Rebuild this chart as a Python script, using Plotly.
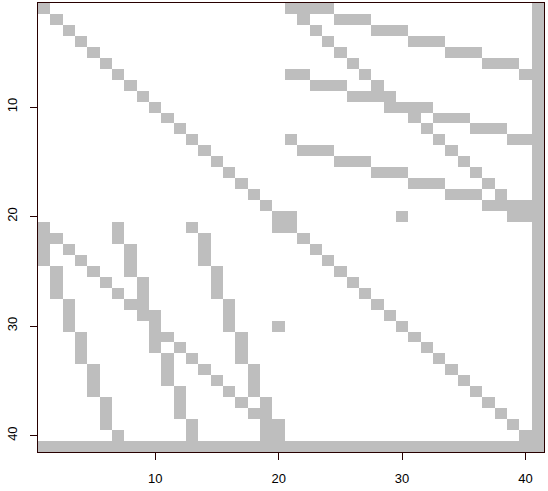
import numpy as np
import plotly.graph_objects as go

n = 41
# off-diagonal nonzeros in the upper triangle (row < col); the matrix is symmetric
pair_row = [1, 1, 1, 1, 2, 2, 2, 2, 3, 3, 3, 3, 4, 4, 4, 4, 5, 5, 5, 5,
            6, 6, 6, 6, 7, 7, 7, 7, 8, 8, 8, 8, 9, 9, 9, 9, 10, 10, 10, 10,
            11, 11, 11, 11, 12, 12, 12, 12, 13, 13, 13, 13, 14, 14, 14, 14,
            15, 15, 15, 15, 16, 16, 16, 16, 17, 17, 17, 17, 18, 18, 18, 18,
            19, 19, 19, 19, 20, 20, 20, 20]
pair_col = [21, 22, 23, 24, 22, 25, 26, 27, 23, 28, 29, 30, 24, 31, 32, 33,
            25, 34, 35, 36, 26, 37, 38, 39, 21, 22, 27, 40, 23, 24, 25, 28,
            26, 27, 28, 29, 29, 30, 31, 32, 31, 33, 34, 35, 32, 36, 37, 38,
            21, 33, 39, 40, 22, 23, 24, 34, 25, 26, 27, 35, 28, 29, 30, 36,
            31, 32, 33, 37, 34, 35, 36, 38, 37, 38, 39, 40, 21, 30, 39, 40]
full_index = [41]  # last row and column are dense
tick_vals = [10, 20, 30, 40]

z = np.zeros((n, n))
np.fill_diagonal(z, 1)
for r, c in zip(pair_row, pair_col):
    z[r - 1, c - 1] = 1
    z[c - 1, r - 1] = 1
for k in full_index:
    z[k - 1, :] = 1
    z[:, k - 1] = 1

idx = list(range(1, n + 1))

fig = go.Figure(
    go.Heatmap(
        x=idx, y=idx, z=z, zmin=0, zmax=1,
        colorscale=[[0, "#FFFFFF"], [1, "#BEBEBE"]],
        showscale=False, hoverinfo="skip",
    )
)

axis_style = dict(
    tickvals=tick_vals,
    ticks="outside",
    ticklen=7,
    tickwidth=1,
    tickcolor="rgb(40,0,0)",
    showline=True,
    linecolor="rgb(40,0,0)",
    linewidth=1,
    mirror=True,
    showgrid=False,
    zeroline=False,
    automargin=False,
)

fig.update_xaxes(range=[0.5, n + 0.5], ticklabelstandoff=7, **axis_style)
fig.update_yaxes(range=[n + 0.5, 0.5], tickangle=-90, ticklabelstandoff=8, **axis_style)

fig.update_layout(
    width=548, height=491,
    margin=dict(l=38, r=4, t=3, b=39),
    paper_bgcolor="#FFFFFF", plot_bgcolor="#FFFFFF",
    font=dict(family="Liberation Sans, Arial, sans-serif", size=13, color="#000000"),
)

fig.write_html("out.html", config={"displayModeBar": False},
               post_script="document.body.style.margin='0';")
